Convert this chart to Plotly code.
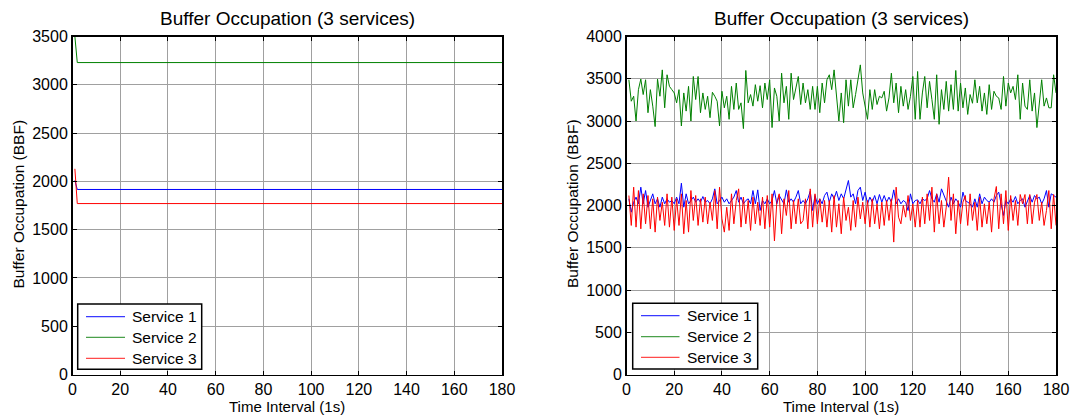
import plotly.graph_objects as go

# ---------------- data ----------------
# Left panel: lines start at t=1, settle at t=2 and stay flat to t=180
left_x = [1, 2, 180]
left_s1 = [2010, 1916, 1916]
left_s2 = [3500, 3230, 3230]
left_s3 = [2130, 1770, 1770]

# Right panel: 180 one-second samples
right_x = list(range(1, 181))

right_s1 = [
    2079, 1921, 2039, 2099, 2020, 2217, 2020, 2177, 1980, 2059,
    2138, 2020, 2079, 1980, 2099, 2020, 2079, 2039, 2059, 2020,
    2099, 2020, 2264, 1980, 2138, 2020, 2059, 2099, 2039, 2079,
    2039, 2106, 2039, 2059, 2020, 2079, 2197, 2020, 2059, 2099,
    2039, 2079, 2020, 2059, 2099, 2177, 2039, 2099, 2020, 2059,
    2079, 2020, 2177, 2020, 2185, 1941, 2059, 2020, 2079, 2020,
    2059, 2177, 2020,
    2118, 2059, 2020, 2185, 2039, 2079, 2039, 2099, 2177, 2020,
    2059, 2020, 2079, 2169, 1941, 2118, 2020, 2079, 2020, 2118,
    2158, 2039, 2138, 2079, 2169, 2059, 2138, 2079, 2177, 2296,
    2099, 2138, 2020, 2177, 2217, 2059, 2158, 2020, 2099, 2039,
    2118, 2020, 2130, 2039, 2118, 2039, 2099, 2039, 2185, 2020,
    2079, 2020, 2059, 2039, 1941, 2138, 2020, 2059, 2067, 2020,
    2079,
    2059, 2079, 2177, 2079, 2039, 2138, 2039, 2197, 2118, 2039,
    1980, 2099, 2020, 2079, 2039, 1980, 2158, 2059, 2039, 2020,
    1980, 2079, 1980, 2138, 2020, 2099, 2059, 2039, 2079, 2039,
    2118, 2158, 2020, 1882, 2059, 2020, 2079, 2039, 2106, 2020,
    2059, 2079, 1980, 2059, 2118, 2039, 2118, 2079, 2099, 2020,
    2079, 2177, 1980, 2138, 2118, 2099,
]

right_s2 = [
    3488, 3234, 3293, 3000, 3371, 3496, 3313, 3488, 3098, 3371,
    3176, 2934, 3496, 3293, 3605, 3156, 3547, 3410, 3371, 3332,
    3215, 3371, 2941, 3332, 3117, 3410, 3000, 3527, 3254, 3527,
    3098, 3332, 3137, 3293, 3039, 3340, 3293, 3234, 2941, 3352,
    3156, 3293, 3020, 3410, 3137, 3449, 3137, 3215, 2910, 3598,
    3215, 3313, 3176, 3430, 3234, 3418, 3156, 3449, 3254, 3488,
    2922, 3391, 3293,
    3000, 3566, 3215, 3410, 3020, 3566, 3254, 3391, 3527, 3195,
    3449, 3215, 3371, 3137, 3410, 3137, 3410, 3098, 3449, 3215,
    3488, 3547, 3371, 3605, 3254, 3000, 3332, 2980, 3488, 3176,
    3488, 3156, 3313, 3488, 3664, 3332, 3195, 3020, 3371, 3137,
    3371, 3195, 3293, 3273, 3352, 3117, 3273, 3566, 3215, 3449,
    3098, 3410, 3176, 3371, 3137, 3293, 3527, 3020, 3586, 3020,
    3332,
    3527, 3156, 3469, 3254, 3020, 3547, 2961, 3371, 3137, 3469,
    3117, 3430, 3137, 3598, 3117, 3449, 3156, 3391, 3078, 3313,
    3210, 3488, 3215, 3410, 3117, 3332, 3078, 3430, 3137, 3352,
    3293, 3273, 3137, 3527, 3176, 3449, 3332, 3410, 3254, 3547,
    3020, 3449, 3176, 3137, 3488, 3117, 3332, 2922, 3195, 3488,
    3176, 3273, 3156, 3156, 3547, 3332,
]

right_s3 = [
    2118, 1764, 2217, 1744, 2177, 1724, 2138, 1783, 2118, 1724,
    2079, 1685, 2099, 1823, 2039, 1764, 2138, 1744, 2099, 1705,
    2079, 1764, 2138, 1665, 2059, 1685, 2177, 1823, 2118, 1764,
    2079, 1803, 2099, 1783, 2039, 1823, 2177, 1724, 2217, 1842,
    1685, 1980, 1705, 2138, 1783, 2059, 2197, 1744, 2099, 1783,
    2059, 1705, 2099, 1783, 2039, 1764, 2099, 1724, 2118, 1744,
    2138, 1580, 2039,
    2138, 1665, 2079, 1882, 2177, 1724, 2059, 1783, 2079, 1783,
    1823, 2079, 1724, 2197, 1744, 2138, 1783, 2079, 1803, 2059,
    1744, 2059, 1685, 2118, 1744, 2020, 1665, 2099, 1823, 1980,
    1705, 2059, 1744, 2099, 1842, 2039, 1783, 2059, 1744, 2079,
    1783, 2020, 1724, 2039, 1764, 2059, 1823, 2079, 1567, 2217,
    1862, 1783, 2000, 1862, 2118, 1823, 2020, 1744, 2059, 1744,
    2099,
    1783, 2138, 1823, 2217, 1685, 2138, 1783, 2059, 1744, 1980,
    2335, 1823, 2138, 1665, 2059, 1783, 2039, 2118, 1764, 2138,
    1823, 2039, 1705, 2099, 1744, 2020, 1783, 2039, 1685, 2079,
    2225, 1724, 2138, 1783, 2177, 1705, 2118, 1823, 2059, 1764,
    2130, 2020, 2130, 1783, 2130, 1783, 2039, 2130, 1823, 2039,
    1764, 1941, 2177, 1724, 2130, 1764,
]

series_names = ["Service 1", "Service 2", "Service 3"]
series_colors = ["#0000FF", "#008000", "#FF0000"]
legend_colors = ["#3a3aff", "#4aa04a", "#ff4a4a"]

x_ticks = [0, 20, 40, 60, 80, 100, 120, 140, 160, 180]
left_y_ticks = [0, 500, 1000, 1500, 2000, 2500, 3000, 3500]
right_y_ticks = [0, 500, 1000, 1500, 2000, 2500, 3000, 3500, 4000]

title_text = "Buffer Occupation (3 services)"
x_title = "Time Interval (1s)"
y_title = "Buffer Occupation (BBF)"

# ---------------- figure ----------------
W, H = 1070, 418
FONT = "Arial, 'Liberation Sans', sans-serif"

fig = go.Figure()

left_data = [left_s1, left_s2, left_s3]
right_data = [right_s1, right_s2, right_s3]

for name, col, ys in zip(series_names, series_colors, left_data):
    fig.add_trace(go.Scatter(x=left_x, y=ys, mode="lines", name=name,
                             line=dict(color=col, width=1),
                             xaxis="x", yaxis="y", showlegend=False))
for name, col, ys in zip(series_names, series_colors, right_data):
    fig.add_trace(go.Scatter(x=right_x, y=ys, mode="lines", name=name,
                             line=dict(color=col, width=1),
                             xaxis="x2", yaxis="y2", showlegend=False))

# pixel geometry
L1, R1 = 72.5, 502
L2, R2 = 626.5, 1056
TOP, BOT = 36.5, 374.5
ydom = [1 - BOT / H, 1 - TOP / H]

axis_common = dict(
    showline=True, linecolor="black", linewidth=1.5, mirror="ticks",
    ticks="inside", ticklen=4, tickcolor="black", tickwidth=1,
    showgrid=True, gridcolor="#a0a0a0", gridwidth=1,
    zeroline=False, automargin=False,
    tickfont=dict(family=FONT, size=16, color="black"),
)

fig.update_layout(
    template="none",
    width=W, height=H,
    margin=dict(l=0, r=0, t=0, b=0, pad=0),
    paper_bgcolor="white", plot_bgcolor="white",
    font=dict(family=FONT, size=15, color="black"),
    xaxis=dict(domain=[L1 / W, R1 / W], range=[0, 180], tickvals=x_ticks,
               anchor="y", **axis_common),
    yaxis=dict(domain=ydom, range=[0, 3500], tickvals=left_y_ticks,
               anchor="x", **axis_common),
    xaxis2=dict(domain=[L2 / W, R2 / W], range=[0, 180], tickvals=x_ticks,
                anchor="y2", **axis_common),
    yaxis2=dict(domain=ydom, range=[0, 4000], tickvals=right_y_ticks,
                anchor="x2", **axis_common),
    showlegend=False,
)


def px(x):
    return x / W


def py(y):
    return 1 - y / H


annotations = []
shapes = []
for (lx, rx, ytx) in [(L1, R1, 17.5), (L2, R2, 572)]:
    cx = (lx + rx) / 2
    annotations.append(dict(x=px(cx), y=py(18), xref="paper", yref="paper",
                            text=title_text, showarrow=False,
                            font=dict(family=FONT, size=19, color="black"),
                            xanchor="center", yanchor="middle"))
    annotations.append(dict(x=px(cx), y=py(406), xref="paper", yref="paper",
                            text=x_title, showarrow=False,
                            font=dict(family=FONT, size=15, color="black"),
                            xanchor="center", yanchor="middle"))
    annotations.append(dict(x=px(ytx), y=py(204), xref="paper", yref="paper",
                            text=y_title, showarrow=False, textangle=-90,
                            font=dict(family=FONT, size=15.5, color="black"),
                            xanchor="center", yanchor="middle"))

# legends (one per panel)
for (bx0, by0, bx1, by1, lx0, lx1, tx, rows) in [
    (77.7, 304, 201.7, 369.3, 86, 125, 129.5, [316.7, 337.3, 358.3]),
    (632.7, 303.3, 757.7, 369, 641, 679.5, 684.5, [315.7, 336.7, 357.3]),
]:
    shapes.append(dict(type="rect", xref="paper", yref="paper",
                       x0=px(bx0), x1=px(bx1), y0=py(by1), y1=py(by0),
                       line=dict(color="black", width=1.5), fillcolor="white",
                       layer="above"))
    for name, col, ry in zip(series_names, legend_colors, rows):
        shapes.append(dict(type="line", xref="paper", yref="paper",
                           x0=px(lx0), x1=px(lx1), y0=py(ry), y1=py(ry),
                           line=dict(color=col, width=1.2), layer="above"))
        annotations.append(dict(x=px(tx), y=py(ry), xref="paper", yref="paper",
                                text=name, showarrow=False,
                                font=dict(family=FONT, size=15.5, color="black"),
                                xanchor="left", yanchor="middle"))

fig.update_layout(annotations=annotations, shapes=shapes)

fig.write_html(
    "out.html",
    config={"displayModeBar": False, "staticPlot": True},
    post_script=(
        "document.documentElement.style.margin='0';"
        "document.body.style.margin='0';document.body.style.padding='0';"
        "document.body.style.overflow='hidden';"
    ),
)
